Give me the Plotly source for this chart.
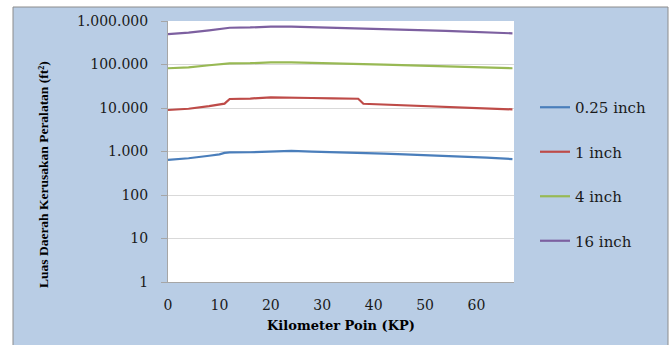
import plotly.graph_objects as go

kp = [0, 4, 8, 10, 11, 12, 16, 20, 24, 28, 32, 36, 37, 38, 42, 46, 50, 54, 58, 62, 67]
s025 = [640, 700, 800, 860, 930, 950, 960, 1010, 1030, 990, 950, 940, 930, 920, 890, 860, 830, 790, 750, 720, 670]
s1 = [9000, 9600, 11000, 12000, 12600, 16100, 16500, 17600, 17600, 17000, 16600, 16500, 16300, 12500, 12000, 11500, 11000, 10500, 10000, 9700, 9300]
s4 = [82000, 86000, 96000, 101000, 105000, 106000, 107000, 112000, 112000, 108000, 104000, 103000, 103000, 102000, 99000, 96000, 93000, 90000, 87000, 85000, 82000]
s16 = [500000, 540000, 610000, 650000, 680000, 700000, 710000, 740000, 740000, 720000, 700000, 690000, 690000, 680000, 660000, 640000, 620000, 590000, 570000, 550000, 520000]

names = ["0.25 inch", "1 inch", "4 inch", "16 inch"]
colors = ["#4A7EBB", "#BE4B48", "#98B954", "#7D60A0"]
series = [s025, s1, s4, s16]

ytickvals = [1, 10, 100, 1000, 10000, 100000, 1000000]
yticktext = ["1", "10", "100", "1.000", "10.000", "100.000", "1.000.000"]
xtickvals = [0, 10, 20, 30, 40, 50, 60]

fig = go.Figure()
for n, c, s in zip(names, colors, series):
    fig.add_trace(go.Scatter(x=kp, y=s, mode="lines", name=n, legendgroup=n,
                             line=dict(color=c, width=2.2)))

BLUE = "#B9CDE5"
W, H = 672, 345
L, R, T, B = 168, 158, 21, 63
pw, ph = W - L - R, H - T - B

def px(x):
    return (x - L) / pw

def py(y):
    return (H - B - y) / ph

fig.update_layout(
    width=W, height=H,
    margin=dict(l=L, r=R, t=T, b=B, autoexpand=False),
    paper_bgcolor=BLUE, plot_bgcolor="white",
    font=dict(family="DejaVu Serif", size=14, color="#1a1a1a"),
    showlegend=True,
    legend=dict(x=px(535), y=py(91), xanchor="left", yanchor="top",
                bgcolor="rgba(0,0,0,0)", font=dict(size=15, family="DejaVu Serif"),
                traceorder="grouped", tracegroupgap=22, itemwidth=30),
    xaxis=dict(range=[0, 67.3], tickvals=xtickvals, showgrid=False, zeroline=False,
               showline=True, linecolor="#A6A6A6", linewidth=1, ticks="",
               ticklabelstandoff=10, tickfont=dict(size=14),
               title=dict(text="Kilometer Poin (KP)", standoff=9,
                          font=dict(family="DejaVu Serif", size=13, weight="bold", color="#000"))),
    yaxis=dict(type="log", range=[0, 6], tickvals=ytickvals, ticktext=yticktext,
               showgrid=True, gridcolor="#D9D9D9", gridwidth=1, zeroline=False,
               showline=True, linecolor="#A6A6A6", linewidth=1,
               ticks="outside", ticklen=6, tickcolor="#A6A6A6",
               ticklabelstandoff=10, tickfont=dict(size=14)),
    shapes=[
        dict(type="rect", xref="paper", yref="paper", x0=px(-5), x1=px(W + 5), y0=py(7), y1=py(-5),
             fillcolor="white", line=dict(width=0), layer="above"),
        dict(type="rect", xref="paper", yref="paper", x0=px(-5), x1=px(13), y0=py(H + 5), y1=py(-5),
             fillcolor="white", line=dict(width=0), layer="above"),
        dict(type="rect", xref="paper", yref="paper", x0=px(668), x1=px(W + 5), y0=py(H + 5), y1=py(-5),
             fillcolor="white", line=dict(width=0), layer="above"),
        dict(type="rect", xref="paper", yref="paper", x0=px(13), x1=px(668), y0=py(H + 5), y1=py(7),
             fillcolor="rgba(0,0,0,0)", line=dict(width=1, color="#8C8C8C"), layer="above"),
    ],
    annotations=[
        dict(text="Luas Daerah Kerusakan Peralatan (ft²)", textangle=-90, xref="paper", yref="paper",
             x=px(43), y=py(175), showarrow=False, xanchor="center", yanchor="middle",
             font=dict(family="Liberation Serif", size=13.5, weight="bold", color="#000")),
    ],
)

fig.write_html("out.html", config={"displayModeBar": False},
               post_script="document.body.style.margin='0';document.body.style.overflow='hidden';")
